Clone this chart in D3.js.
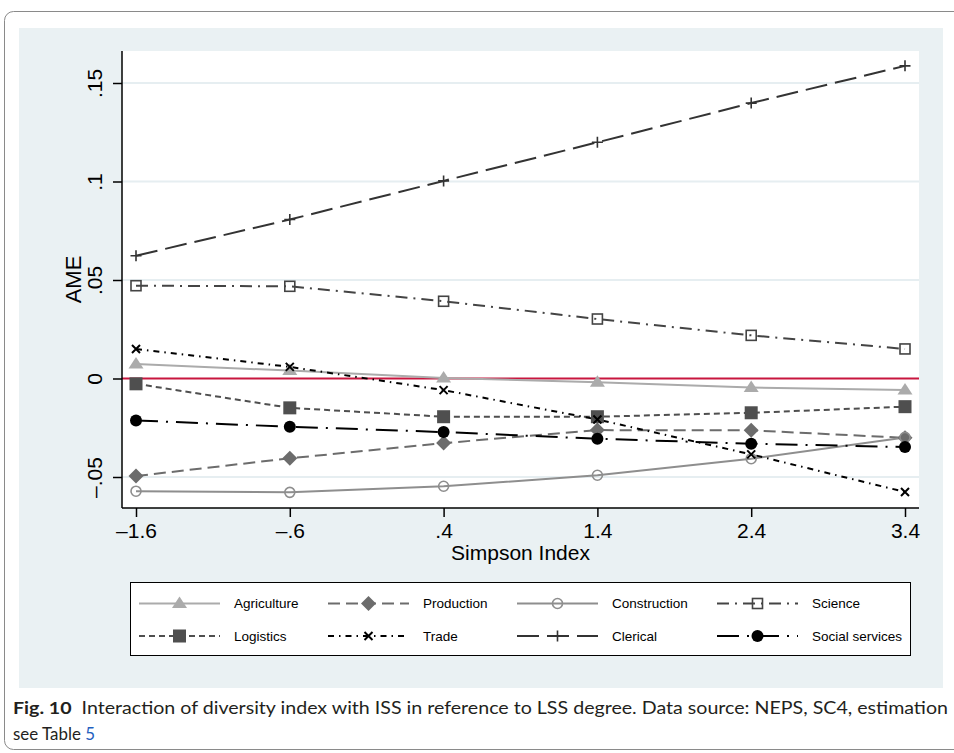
<!DOCTYPE html>
<html>
<head>
<meta charset="utf-8">
<script src="https://cdn.jsdelivr.net/npm/d3@7"></script>
<style>
  body { margin: 0; background: #fff; }
  svg { display: block; }
</style>
</head>
<body>
<div id="chart"></div>
<script>
// Values (AME by Simpson Index)
const xValues = [-1.6, -0.6, 0.4, 1.4, 2.4, 3.4];
const xTickLabels = ["\u20131.6", "\u2013.6", ".4", "1.4", "2.4", "3.4"];
const yTicks = [-0.05, 0, 0.05, 0.1, 0.15];
const yTickLabels = ["\u2013.05", "0", ".05", ".1", ".15"];

const categories = ["Agriculture", "Production", "Construction", "Science",
                    "Logistics", "Trade", "Clerical", "Social services"];

const agriculture    = [0.0073, 0.0040, 0.0003, -0.0019, -0.0046, -0.0059];
const production     = [-0.0495, -0.0405, -0.0328, -0.0262, -0.0263, -0.0301];
const construction   = [-0.0572, -0.0578, -0.0547, -0.0491, -0.0407, -0.0299];
const science        = [0.0471, 0.0468, 0.0392, 0.0302, 0.0219, 0.0150];
const logistics      = [-0.0027, -0.0149, -0.0194, -0.0194, -0.0174, -0.0143];
const trade          = [0.0150, 0.0059, -0.0059, -0.0208, -0.0385, -0.0576];
const clerical       = [0.0623, 0.0807, 0.1003, 0.1199, 0.1398, 0.1587];
const socialServices = [-0.0213, -0.0245, -0.0272, -0.0306, -0.0331, -0.0348];

const seriesValues = [agriculture, production, construction, science,
                      logistics, trade, clerical, socialServices];

// line / marker styles per series
const styles = [
  { color: "#ababab", dash: null,             marker: "triangle" },
  { color: "#6c6c6c", dash: "12,6",           marker: "diamond" },
  { color: "#8e8e8e", dash: null,             marker: "circleHollow" },
  { color: "#444444", dash: "12,6,2,6",       marker: "squareHollow" },
  { color: "#4f4f4f", dash: "6,4",            marker: "square" },
  { color: "#000000", dash: "6,5,1.5,5",      marker: "cross" },
  { color: "#333333", dash: "22,8",           marker: "plus" },
  { color: "#000000", dash: "22,8,2,8",       marker: "circle" }
];

const width = 954, height = 753;
const plot = { left: 122, right: 919, top: 51, bottom: 508 };
const font = "'Liberation Sans', Arial, Helvetica, sans-serif";

const svg = d3.select("#chart").append("svg")
  .attr("width", width)
  .attr("height", height);

// outer frame of the figure box
svg.append("rect")
  .attr("x", 4.5).attr("y", 11.5)
  .attr("width", 1000).attr("height", 738)
  .attr("rx", 9)
  .attr("fill", "none")
  .attr("stroke", "#8a8a8a")
  .attr("stroke-width", 1);

// graph region
svg.append("rect")
  .attr("x", 19).attr("y", 28)
  .attr("width", 924).attr("height", 660)
  .attr("fill", "#eaf1f3");

// plot region
svg.append("rect")
  .attr("x", plot.left).attr("y", plot.top)
  .attr("width", plot.right - plot.left).attr("height", plot.bottom - plot.top)
  .attr("fill", "#fff");

const x = d3.scaleLinear().domain([-1.6, 3.4]).range([136, 905]);
const y = d3.scaleLinear().domain([-0.05, 0.15]).range([477, 83]);

// gridlines
svg.append("g")
  .selectAll("line")
  .data(yTicks.filter(d => d !== 0))
  .join("line")
  .attr("x1", plot.left).attr("x2", plot.right)
  .attr("y1", d => y(d)).attr("y2", d => y(d))
  .attr("stroke", "#e6eef1")
  .attr("stroke-width", 2);

// zero reference line
svg.append("line")
  .attr("x1", plot.left).attr("x2", plot.right)
  .attr("y1", y(0)).attr("y2", y(0))
  .attr("stroke", "#c8163f")
  .attr("stroke-width", 2);

// axes
const yAxis = svg.append("g")
  .attr("transform", `translate(${plot.left},0)`)
  .call(d3.axisLeft(y)
    .tickValues(yTicks)
    .tickFormat((d, i) => yTickLabels[i])
    .tickSize(9)
    .tickSizeOuter(0));
yAxis.select(".domain").remove();
yAxis.selectAll(".tick line").attr("stroke", "#000").attr("stroke-width", 1.5);
yAxis.selectAll(".tick text")
  .attr("x", null).attr("dy", null)
  .attr("transform", "translate(-20,0) rotate(-90)")
  .attr("text-anchor", "middle")
  .attr("fill", "#000")
  .style("font-family", font)
  .style("font-size", "21px");

const xAxis = svg.append("g")
  .attr("transform", `translate(0,${plot.bottom})`)
  .call(d3.axisBottom(x)
    .tickValues(xValues)
    .tickFormat((d, i) => xTickLabels[i])
    .tickSize(9)
    .tickPadding(6)
    .tickSizeOuter(0));
xAxis.select(".domain").remove();
xAxis.selectAll(".tick line").attr("stroke", "#000").attr("stroke-width", 1.5);
xAxis.selectAll(".tick text")
  .attr("fill", "#000")
  .style("font-family", font)
  .style("font-size", "21px");

// axis lines
svg.append("line")
  .attr("x1", plot.left).attr("x2", plot.left)
  .attr("y1", plot.top).attr("y2", plot.bottom)
  .attr("stroke", "#000").attr("stroke-width", 1.5);
svg.append("line")
  .attr("x1", plot.left).attr("x2", plot.right)
  .attr("y1", plot.bottom).attr("y2", plot.bottom)
  .attr("stroke", "#000").attr("stroke-width", 1.5);

// axis titles
svg.append("text")
  .attr("transform", `translate(81,${(plot.top + plot.bottom) / 2}) rotate(-90)`)
  .attr("text-anchor", "middle")
  .style("font-family", font)
  .style("font-size", "22px")
  .text("AME");

svg.append("text")
  .attr("x", (plot.left + plot.right) / 2)
  .attr("y", 560)
  .attr("text-anchor", "middle")
  .style("font-family", font)
  .style("font-size", "21px")
  .text("Simpson Index");

// marker drawing
function drawMarker(g, type, color, cx, cy) {
  const m = g.append("g").attr("transform", `translate(${cx},${cy})`);
  if (type === "triangle") {
    m.append("path").attr("d", "M0,-7L7.5,4.5L-7.5,4.5Z").attr("fill", color);
  } else if (type === "diamond") {
    m.append("path").attr("d", "M0,-7.5L7.5,0L0,7.5L-7.5,0Z").attr("fill", color);
  } else if (type === "circleHollow") {
    m.append("circle").attr("r", 5).attr("fill", "none")
      .attr("stroke", color).attr("stroke-width", 1.6);
  } else if (type === "squareHollow") {
    m.append("rect").attr("x", -5).attr("y", -5).attr("width", 10).attr("height", 10)
      .attr("fill", "none").attr("stroke", color).attr("stroke-width", 1.6);
  } else if (type === "square") {
    m.append("rect").attr("x", -6.5).attr("y", -6.5).attr("width", 13).attr("height", 13)
      .attr("fill", color);
  } else if (type === "cross") {
    m.append("path").attr("d", "M-4,-4L4,4M-4,4L4,-4")
      .attr("stroke", color).attr("stroke-width", 2);
  } else if (type === "plus") {
    m.append("path").attr("d", "M-5.5,0L5.5,0M0,-5.5L0,5.5")
      .attr("stroke", color).attr("stroke-width", 1.6);
  } else if (type === "circle") {
    m.append("circle").attr("r", 6).attr("fill", color);
  }
}

// series lines + markers
const line = d3.line()
  .x((d, i) => x(xValues[i]))
  .y(d => y(d));

const seriesG = svg.append("g");
seriesValues.forEach((vals, k) => {
  const st = styles[k];
  seriesG.append("path")
    .attr("d", line(vals))
    .attr("fill", "none")
    .attr("stroke", st.color)
    .attr("stroke-width", 2)
    .attr("stroke-dasharray", st.dash);
});
seriesValues.forEach((vals, k) => {
  const st = styles[k];
  vals.forEach((v, i) => drawMarker(seriesG, st.marker, st.color, x(xValues[i]), y(v)));
});

// legend
const legend = svg.append("g");
legend.append("rect")
  .attr("x", 130.5).attr("y", 582.5)
  .attr("width", 780).attr("height", 73)
  .attr("fill", "#fff")
  .attr("stroke", "#000")
  .attr("stroke-width", 1);

const colX = [139, 328, 517, 717];
const rowY = [603.5, 636];
const keyW = 81;

categories.forEach((name, k) => {
  const cx = colX[k % 4];
  const cy = rowY[Math.floor(k / 4)];
  const st = styles[k];
  legend.append("line")
    .attr("x1", cx).attr("x2", cx + keyW)
    .attr("y1", cy).attr("y2", cy)
    .attr("stroke", st.color)
    .attr("stroke-width", 2)
    .attr("stroke-dasharray", st.dash);
  drawMarker(legend, st.marker, st.color, cx + keyW / 2, cy);
  legend.append("text")
    .attr("x", cx + keyW + 14)
    .attr("y", cy)
    .attr("dy", "0.35em")
    .style("font-family", font)
    .style("font-size", "13.5px")
    .text(name);
});

// caption (condensed to the width used in the figure)
const capFont = "Lato, 'Open Sans', sans-serif";
const line1 = svg.append("text")
  .attr("x", 13).attr("y", 714)
  .attr("textLength", 935)
  .attr("lengthAdjust", "spacingAndGlyphs")
  .style("font-family", capFont)
  .style("font-size", "17px")
  .attr("fill", "#231f20");
line1.append("tspan").style("font-weight", "bold").text("Fig. 10");
line1.append("tspan")
  .text("\u00a0 Interaction of diversity index with ISS in reference to LSS degree. Data source: NEPS, SC4, estimation");
const line2 = svg.append("text")
  .attr("x", 13).attr("y", 740)
  .attr("textLength", 82)
  .attr("lengthAdjust", "spacingAndGlyphs")
  .style("font-family", capFont)
  .style("font-size", "17px")
  .attr("fill", "#231f20");
line2.append("tspan").text("see Table ");
line2.append("tspan").attr("fill", "#1f5fbf").text("5");
</script>
</body>
</html>
